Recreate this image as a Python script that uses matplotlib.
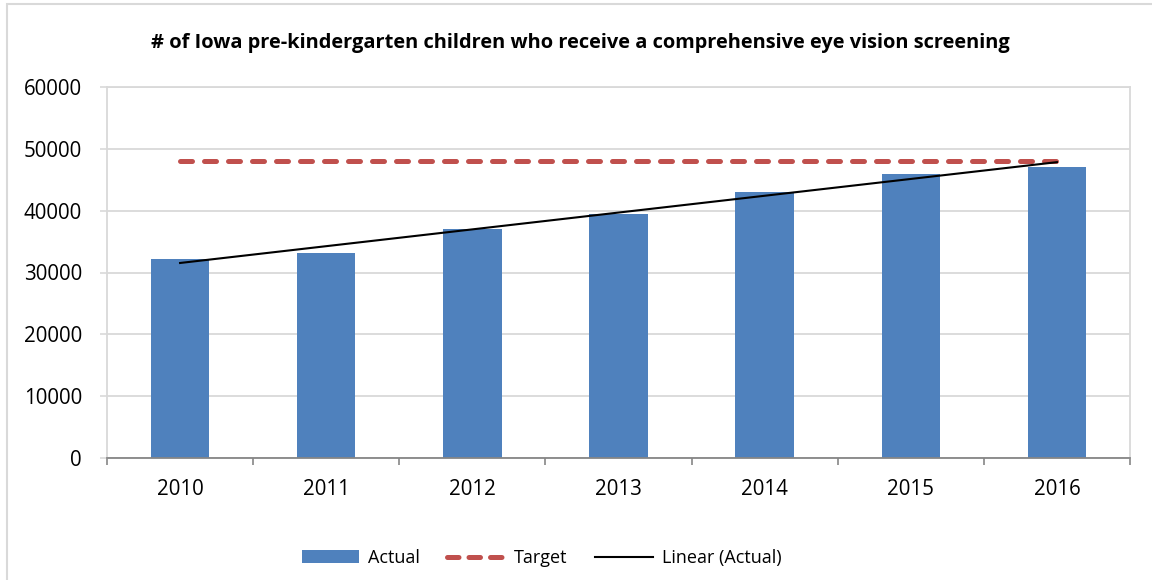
import numpy as np
import matplotlib
matplotlib.use("Agg")
import matplotlib.pyplot as plt
from matplotlib.patches import Rectangle, Patch
from matplotlib.lines import Line2D

years = ["2010", "2011", "2012", "2013", "2014", "2015", "2016"]
actual = [32200, 33150, 37050, 39450, 43000, 45950, 47050]
target = [48100, 48100, 48100, 48100, 48100, 48100, 48100]

blue = "#4F81BD"
red = "#C0504D"
grid = "#D9D9D9"

plt.rcParams["font.family"] = ["Open Sans", "DejaVu Sans"]

fig = plt.figure(figsize=(11.52, 5.80), dpi=100)
ax = fig.add_axes([107 / 1152, 1 - 458 / 580, (1130 - 107) / 1152, (458 - 87) / 580])

x = np.arange(len(years))
ax.bar(x, actual, width=0.4, color=blue, zorder=2)
ax.plot(x, target, color=red, lw=3.6, dashes=(2.4, 2.4), dash_capstyle="round", zorder=3)

# linear trend of the actual values
fit = np.polyfit(x, actual, 1)
ax.plot(x, np.polyval(fit, x), color="black", lw=1.5, zorder=4)

ax.set_xlim(-0.5, 6.5)
ax.set_ylim(0, 60000)
ax.set_yticks(np.arange(0, 60001, 10000))
ax.yaxis.grid(True, color=grid, lw=1.3, zorder=0)
ax.set_axisbelow(True)

ax.set_xticks(x)
ax.set_xticklabels(years)
ax.set_xticks(np.arange(-0.5, 7, 1), minor=True)
ax.tick_params(axis="x", which="major", length=0, pad=15, labelsize=14.8)
ax.tick_params(axis="x", which="minor", length=5, width=1.2, color="#868686", direction="out")
ax.tick_params(axis="y", length=5, width=1.2, color=grid, pad=13, labelsize=14.8)

for s in ["left", "right", "top"]:
    ax.spines[s].set_color(grid)
    ax.spines[s].set_linewidth(1.3)
ax.spines["bottom"].set_color("#868686")
ax.spines["bottom"].set_linewidth(1.3)

fig.text(0.504, 1 - 43 / 580, "# of Iowa pre-kindergarten children who receive a comprehensive eye vision screening",
         ha="center", va="center", fontsize=14.4, fontweight="bold")

handles = [
    Patch(facecolor=blue, edgecolor="none"),
    Line2D([], [], color=red, lw=3.6, dashes=(2.3, 2.0), dash_capstyle="round"),
    Line2D([], [], color="black", lw=1.5),
]
fig.legend(handles, ["Actual", "Target", "Linear (Actual)"], loc="center", bbox_to_anchor=(0.470, 0.038),
           ncol=3, frameon=False, fontsize=13, handlelength=3.2, handleheight=0.75,
           handletextpad=0.5, columnspacing=1.5)

# outer chart border
fig.patches.append(Rectangle((6.5 / 1152, -0.1), 1.2, 1.1 - 4 / 580, transform=fig.transFigure,
                             fill=False, edgecolor=grid, lw=1.5))

fig.savefig("out.png", dpi=100)
